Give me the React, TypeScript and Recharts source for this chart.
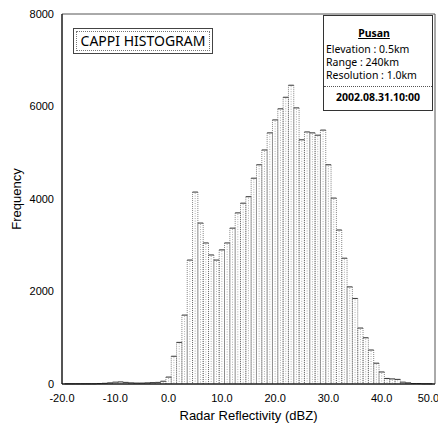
import { BarChart, Bar, XAxis, YAxis, ReferenceArea } from "recharts";

// reflectivity bin centres (1 dBZ bins)
const dbz = [
  -19, -18, -17, -16, -15, -14, -13, -12, -11, -10, -9, -8, -7, -6, -5, -4, -3, -2, -1,
  0, 1, 2, 3, 4, 5, 6, 7, 8, 9,
  10, 11, 12, 13, 14, 15, 16, 17, 18, 19,
  20, 21, 22, 23, 24, 25, 26, 27, 28, 29,
  30, 31, 32, 33, 34, 35, 36, 37, 38, 39,
  40, 41, 42, 43, 44, 45, 46, 47, 48, 49,
];

// pixel counts per bin
const frequency = [
  5, 5, 5, 5, 5, 5, 10, 15, 25, 40, 45, 35, 25, 20, 20, 25, 30, 35, 60,
  150, 600, 900, 1490, 2680, 4150, 3480, 3050, 2790, 2680,
  2900, 3050, 3370, 3700, 3910, 4050, 4450, 4740, 5060, 5430,
  5710, 5950, 6200, 6460, 5970, 5280, 5450, 5430, 5380, 5490,
  4740, 4020, 3330, 2720, 2100, 1850, 1210, 1000, 735, 450,
  260, 120, 110, 100, 40, 25, 10, 10, 5, 5,
];

const xTicks = [-20, -10, 0, 10, 20, 30, 40, 50];
const yTicks = [0, 2000, 4000, 6000, 8000];

const station = "Pusan";
const infoLines = ["Elevation : 0.5km", "Range : 240km", "Resolution : 1.0km"];
const timestamp = "2002.08.31.10:00";

const data = dbz.map((d, i) => ({ dbz: d, count: frequency[i] }));

const FONT = "'Noto Sans', 'DejaVu Sans', sans-serif";
const AXIS_FONT = "'Liberation Sans', Arial, sans-serif";

// outlined histogram bar: dotted sides and centre line, solid top
function HistBar(props: any) {
  const { x, y, width, height } = props;
  if (!height || height <= 0) return null;
  const mid = x + width / 2;
  const bottom = y + height;
  return (
    <g>
      <line x1={x} y1={y} x2={x} y2={bottom} stroke="#666" strokeWidth={0.8} strokeDasharray="1 1" />
      <line x1={mid} y1={y + 1} x2={mid} y2={bottom} stroke="#999" strokeWidth={0.8} strokeDasharray="1 1.5" />
      <line x1={x + width} y1={y} x2={x + width} y2={bottom} stroke="#666" strokeWidth={0.8} strokeDasharray="1 1" />
      <line x1={x} y1={y} x2={x + width} y2={y} stroke="#333" strokeWidth={1} />
    </g>
  );
}

export default function App() {
  return (
    <div style={{ position: "absolute", left: 0, top: 0, width: 438, height: 423, background: "#fff", fontFamily: FONT }}>
      <BarChart width={438} height={423} data={data} margin={{ top: 14, right: 3, bottom: 0, left: 0 }}>
        <XAxis
          dataKey="dbz"
          type="number"
          domain={[-20, 50]}
          ticks={xTicks}
          tickFormatter={(v: number) => v.toFixed(1)}
          tickLine={false}
          tickMargin={4}
          axisLine={{ stroke: "#000" }}
          height={39}
          tick={{ fill: "#000", fontSize: 11, fontFamily: AXIS_FONT }}
          label={{ value: "Radar Reflectivity (dBZ)", position: "insideBottom", offset: 3, fill: "#000", fontSize: 13, fontFamily: AXIS_FONT }}
        />
        <YAxis
          type="number"
          domain={[0, 8000]}
          ticks={yTicks}
          tickLine={false}
          axisLine={{ stroke: "#000" }}
          width={62}
          tick={{ fill: "#000", fontSize: 11, fontFamily: AXIS_FONT }}
          label={{ value: "Frequency", angle: -90, position: "insideLeft", offset: 16, fill: "#000", fontSize: 13, fontFamily: AXIS_FONT, style: { textAnchor: "middle" } }}
        />
        <ReferenceArea x1={-20} x2={50} y1={0} y2={8000} fill="none" stroke="#555" strokeWidth={1} />
        <Bar dataKey="count" barSize={5.3} shape={HistBar} isAnimationActive={false} />
      </BarChart>

      <div
        style={{
          position: "absolute", left: 73, top: 28, width: 140, height: 26, boxSizing: "border-box",
          border: "1px solid #444", background: "#fff", padding: 2,
        }}
      >
        <div
          style={{
            width: "100%", height: "100%", boxSizing: "border-box", border: "1px dotted #777",
            fontSize: 14, lineHeight: "18px", textAlign: "center", color: "#000",
          }}
        >
          CAPPI HISTOGRAM
        </div>
      </div>

      <div
        style={{
          position: "absolute", left: 323, top: 15, width: 110, height: 96, boxSizing: "border-box",
          border: "1px solid #333", background: "#fff", fontSize: 10.5, color: "#000",
        }}
      >
        <div style={{ textAlign: "center", fontWeight: "bold", textDecoration: "underline", marginTop: 10, lineHeight: "14px", paddingRight: 8 }}>
          {station}
        </div>
        <div style={{ paddingLeft: 2, marginTop: 3 }}>
          {infoLines.map((t) => (
            <div key={t} style={{ lineHeight: "13px", whiteSpace: "nowrap" }}>{t}</div>
          ))}
        </div>
        <div style={{ borderTop: "1px dotted #555", marginTop: 4, paddingTop: 3, textAlign: "center", fontWeight: "bold", fontSize: 10.5, lineHeight: "14px", whiteSpace: "nowrap" }}>
          {timestamp}
        </div>
      </div>
    </div>
  );
}
